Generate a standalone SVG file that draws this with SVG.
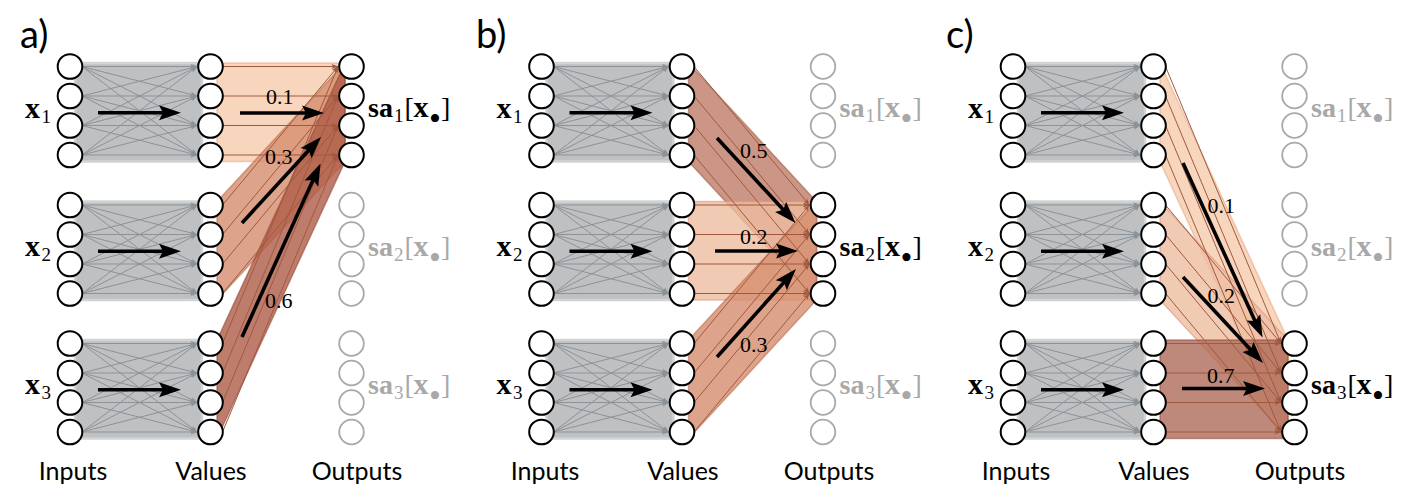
<svg xmlns="http://www.w3.org/2000/svg" xmlns:xlink="http://www.w3.org/1999/xlink" width="1412" height="504" viewBox="0 0 1412 504">
<style>
.on{fill:#fff;stroke:#000;stroke-width:2}
.off{fill:#fff;stroke:#a8a8a8;stroke-width:1.8}
.gb{fill:#bfc0c2;stroke:#d2d3d4;stroke-width:2.5}
.gl{stroke:#8b9399;stroke-width:1;fill:none}
.bl{stroke:#a0593f;stroke-width:1;fill:none;marker-end:url(#bh)}
.big{stroke:#000;stroke-width:3.6;fill:none;marker-end:url(#ah)}
.band{fill-opacity:0.8;stroke-width:1.5;stroke-opacity:0.55}
.w1{fill:#f6ccae;stroke:#e9a47f}
.w2{fill:#eebda1;stroke:#d89274}
.w3{fill:#d68d6e;stroke:#b86a4c}
.w5{fill:#be7c66;stroke:#9c5a44}
.w6{fill:#ae5c47;stroke:#934634}
.w7{fill:#ae6c59;stroke:#8e4b39}
.m{font-family:"Liberation Serif","DejaVu Serif",serif;font-size:28px;fill:#000}
.mg{fill:#a8a8a8}
.b{font-weight:bold}
.xb{font-weight:bold;font-size:30px}
.sub{font-size:19px}
.dot{font-size:34px}
.wt{font-family:"Liberation Serif","DejaVu Serif",serif;font-size:22px;fill:#000}
.s{font-family:Lato,"Open Sans","DejaVu Sans",sans-serif;fill:#000}
.cap{font-size:25px;text-anchor:middle}
.ttl{font-size:38px}
</style>
<defs>
<marker id="ah" markerUnits="userSpaceOnUse" markerWidth="24" markerHeight="16" refX="5" refY="0" orient="auto" overflow="visible"><path d="M0,-7.5 L22,0 L0,7.5 L4,0 Z" fill="#000"/></marker>
<marker id="gh" markerUnits="userSpaceOnUse" markerWidth="8" markerHeight="6" refX="6.5" refY="0" orient="auto" overflow="visible"><path d="M0,-2.7 L7,0 L0,2.7 L1.5,0 Z" fill="#8b9399"/></marker>
<marker id="bh" markerUnits="userSpaceOnUse" markerWidth="8" markerHeight="6" refX="6.5" refY="0" orient="auto" overflow="visible"><path d="M0,-2.5 L7,0 L0,2.5 L1.5,0 Z" fill="#a0593f"/></marker>
<g id="col"><circle cx="0" cy="0" r="12.3"/><circle cx="0" cy="29.5" r="12.3"/><circle cx="0" cy="59" r="12.3"/><circle cx="0" cy="88.5" r="12.3"/></g>
<g id="gband">
<rect x="5" y="-3.5" width="127" height="98.5" class="gb"/>
<g class="gl" marker-end="url(#gh)">
<line x1="12" y1="0" x2="127" y2="0"/><line x1="12" y1="0" x2="127" y2="29.5"/><line x1="12" y1="0" x2="127" y2="59"/><line x1="12" y1="0" x2="127" y2="88.5"/>
<line x1="12" y1="29.5" x2="127" y2="0"/><line x1="12" y1="29.5" x2="127" y2="29.5"/><line x1="12" y1="29.5" x2="127" y2="59"/><line x1="12" y1="29.5" x2="127" y2="88.5"/>
<line x1="12" y1="59" x2="127" y2="0"/><line x1="12" y1="59" x2="127" y2="29.5"/><line x1="12" y1="59" x2="127" y2="59"/><line x1="12" y1="59" x2="127" y2="88.5"/>
<line x1="12" y1="88.5" x2="127" y2="0"/><line x1="12" y1="88.5" x2="127" y2="29.5"/><line x1="12" y1="88.5" x2="127" y2="59"/><line x1="12" y1="88.5" x2="127" y2="88.5"/>
</g>
<line x1="28" y1="46.25" x2="94" y2="46.25" class="big"/>
</g>
</defs>
<rect width="1412" height="504" fill="#fff"/>

<g id="connectors">
<use href="#gband" x="70" y="66.5"/><use href="#gband" x="70" y="205"/><use href="#gband" x="70" y="343.5"/>
<use href="#gband" x="541.5" y="66.5"/><use href="#gband" x="541.5" y="205"/><use href="#gband" x="541.5" y="343.5"/>
<use href="#gband" x="1013" y="66.5"/><use href="#gband" x="1013" y="205"/><use href="#gband" x="1013" y="343.5"/>

<polygon class="band w1" points="217,63 345,63 345,161.5 217,161.5"/>
<polygon class="band w3" points="217,201.5 345,63 345,161.5 217,300"/>
<polygon class="band w6" points="217,340 345,63 345,161.5 217,438.5"/>
<line class="bl" x1="222.5" y1="66.5" x2="338" y2="66.5"/><line class="bl" x1="222.5" y1="96" x2="338" y2="96"/><line class="bl" x1="222.5" y1="125.5" x2="338" y2="125.5"/><line class="bl" x1="222.5" y1="155" x2="338" y2="155"/>
<line class="bl" x1="222.5" y1="205" x2="338" y2="66.5"/><line class="bl" x1="222.5" y1="234.5" x2="338" y2="96"/><line class="bl" x1="222.5" y1="264" x2="338" y2="125.5"/><line class="bl" x1="222.5" y1="293.5" x2="338" y2="155"/>
<line class="bl" x1="222.5" y1="343.5" x2="338" y2="66.5"/><line class="bl" x1="222.5" y1="373" x2="338" y2="96"/><line class="bl" x1="222.5" y1="402.5" x2="338" y2="125.5"/><line class="bl" x1="222.5" y1="432" x2="338" y2="155"/>

<polygon class="band w5" points="688.5,63 816.5,201.5 816.5,300 688.5,161.5"/>
<polygon class="band w2" points="688.5,201.5 816.5,201.5 816.5,300 688.5,300"/>
<polygon class="band w3" points="688.5,340 816.5,201.5 816.5,300 688.5,438.5"/>
<line class="bl" x1="694" y1="66.5" x2="809.5" y2="205"/><line class="bl" x1="694" y1="96" x2="809.5" y2="234.5"/><line class="bl" x1="694" y1="125.5" x2="809.5" y2="264"/><line class="bl" x1="694" y1="155" x2="809.5" y2="293.5"/>
<line class="bl" x1="694" y1="205" x2="809.5" y2="205"/><line class="bl" x1="694" y1="234.5" x2="809.5" y2="234.5"/><line class="bl" x1="694" y1="264" x2="809.5" y2="264"/><line class="bl" x1="694" y1="293.5" x2="809.5" y2="293.5"/>
<line class="bl" x1="694" y1="343.5" x2="809.5" y2="205"/><line class="bl" x1="694" y1="373" x2="809.5" y2="234.5"/><line class="bl" x1="694" y1="402.5" x2="809.5" y2="264"/><line class="bl" x1="694" y1="432" x2="809.5" y2="293.5"/>

<polygon class="band w1" points="1160,63 1288,340 1288,438.5 1160,161.5"/>
<polygon class="band w2" points="1160,201.5 1288,340 1288,438.5 1160,300"/>
<polygon class="band w7" points="1160,340 1288,340 1288,438.5 1160,438.5"/>
<line class="bl" x1="1165.5" y1="66.5" x2="1281" y2="343.5"/><line class="bl" x1="1165.5" y1="96" x2="1281" y2="373"/><line class="bl" x1="1165.5" y1="125.5" x2="1281" y2="402.5"/><line class="bl" x1="1165.5" y1="155" x2="1281" y2="432"/>
<line class="bl" x1="1165.5" y1="205" x2="1281" y2="343.5"/><line class="bl" x1="1165.5" y1="234.5" x2="1281" y2="373"/><line class="bl" x1="1165.5" y1="264" x2="1281" y2="402.5"/><line class="bl" x1="1165.5" y1="293.5" x2="1281" y2="432"/>
<line class="bl" x1="1165.5" y1="343.5" x2="1281" y2="343.5"/><line class="bl" x1="1165.5" y1="373" x2="1281" y2="373"/><line class="bl" x1="1165.5" y1="402.5" x2="1281" y2="402.5"/><line class="bl" x1="1165.5" y1="432" x2="1281" y2="432"/>

<line class="big" x1="240" y1="113" x2="307" y2="113"/>
<line class="big" x1="242" y1="223" x2="309.5" y2="149.5"/>
<line class="big" x1="242" y1="337" x2="313.5" y2="179"/>
<line class="big" x1="717" y1="138" x2="784" y2="210.5"/>
<line class="big" x1="715" y1="251" x2="781" y2="251"/>
<line class="big" x1="717" y1="357" x2="784.6" y2="281.6"/>
<line class="big" x1="1183" y1="163" x2="1255.5" y2="322"/>
<line class="big" x1="1183" y1="277" x2="1251.4" y2="350.6"/>
<line class="big" x1="1182" y1="388.5" x2="1248" y2="388.5"/>

<text class="wt" x="266" y="104">0.1</text>
<text class="wt" x="265" y="163.5">0.3</text>
<text class="wt" x="265" y="308">0.6</text>
<text class="wt" x="740" y="158">0.5</text>
<text class="wt" x="740" y="244">0.2</text>
<text class="wt" x="740" y="352">0.3</text>
<text class="wt" x="1207.5" y="213">0.1</text>
<text class="wt" x="1207.5" y="303">0.2</text>
<text class="wt" x="1207" y="383">0.7</text>
</g>

<g id="a-in1" class="on"><use href="#col" x="70" y="66.5"/></g>
<g id="a-in2" class="on"><use href="#col" x="70" y="205"/></g>
<g id="a-in3" class="on"><use href="#col" x="70" y="343.5"/></g>
<g id="a-val1" class="on"><use href="#col" x="210.5" y="66.5"/></g>
<g id="a-val2" class="on"><use href="#col" x="210.5" y="205"/></g>
<g id="a-val3" class="on"><use href="#col" x="210.5" y="343.5"/></g>
<g id="a-out1" class="on"><use href="#col" x="351.5" y="66.5"/></g>
<g id="a-out2" class="off"><use href="#col" x="351.5" y="205"/></g>
<g id="a-out3" class="off"><use href="#col" x="351.5" y="343.5"/></g>
<g id="b-in1" class="on"><use href="#col" x="541.5" y="66.5"/></g>
<g id="b-in2" class="on"><use href="#col" x="541.5" y="205"/></g>
<g id="b-in3" class="on"><use href="#col" x="541.5" y="343.5"/></g>
<g id="b-val1" class="on"><use href="#col" x="682" y="66.5"/></g>
<g id="b-val2" class="on"><use href="#col" x="682" y="205"/></g>
<g id="b-val3" class="on"><use href="#col" x="682" y="343.5"/></g>
<g id="b-out1" class="off"><use href="#col" x="823" y="66.5"/></g>
<g id="b-out2" class="on"><use href="#col" x="823" y="205"/></g>
<g id="b-out3" class="off"><use href="#col" x="823" y="343.5"/></g>
<g id="c-in1" class="on"><use href="#col" x="1013" y="66.5"/></g>
<g id="c-in2" class="on"><use href="#col" x="1013" y="205"/></g>
<g id="c-in3" class="on"><use href="#col" x="1013" y="343.5"/></g>
<g id="c-val1" class="on"><use href="#col" x="1153.5" y="66.5"/></g>
<g id="c-val2" class="on"><use href="#col" x="1153.5" y="205"/></g>
<g id="c-val3" class="on"><use href="#col" x="1153.5" y="343.5"/></g>
<g id="c-out1" class="off"><use href="#col" x="1294.5" y="66.5"/></g>
<g id="c-out2" class="off"><use href="#col" x="1294.5" y="205"/></g>
<g id="c-out3" class="on"><use href="#col" x="1294.5" y="343.5"/></g>

<g id="labels">
<text class="s ttl" x="20" y="48">a)</text>
<text class="s ttl" x="476" y="48">b)</text>
<text class="s ttl" x="946" y="48">c)</text>

<text class="s cap" x="73" y="480">Inputs</text><text class="s cap" x="211" y="480">Values</text><text class="s cap" x="357" y="480">Outputs</text>
<text class="s cap" x="545" y="480">Inputs</text><text class="s cap" x="683" y="480">Values</text><text class="s cap" x="829" y="480">Outputs</text>
<text class="s cap" x="1016" y="480">Inputs</text><text class="s cap" x="1154" y="480">Values</text><text class="s cap" x="1300" y="480">Outputs</text>

<text class="m" x="25" y="117.5"><tspan class="xb">x</tspan><tspan class="sub" x="41.5" dy="5">1</tspan></text>
<text class="m" x="25" y="256"><tspan class="xb">x</tspan><tspan class="sub" x="41.5" dy="5">2</tspan></text>
<text class="m" x="25" y="394"><tspan class="xb">x</tspan><tspan class="sub" x="41.5" dy="5">3</tspan></text>
<text class="m" x="496.5" y="117.5"><tspan class="xb">x</tspan><tspan class="sub" x="513" dy="5">1</tspan></text>
<text class="m" x="496.5" y="256"><tspan class="xb">x</tspan><tspan class="sub" x="513" dy="5">2</tspan></text>
<text class="m" x="496.5" y="394"><tspan class="xb">x</tspan><tspan class="sub" x="513" dy="5">3</tspan></text>
<text class="m" x="968" y="117.5"><tspan class="xb">x</tspan><tspan class="sub" x="984.5" dy="5">1</tspan></text>
<text class="m" x="968" y="256"><tspan class="xb">x</tspan><tspan class="sub" x="984.5" dy="5">2</tspan></text>
<text class="m" x="968" y="394"><tspan class="xb">x</tspan><tspan class="sub" x="984.5" dy="5">3</tspan></text>

<text class="m" x="368" y="117"><tspan class="b">sa</tspan><tspan class="sub" x="394" dy="5">1</tspan><tspan x="404.5" dy="-5">[</tspan><tspan class="xb" x="413.5">x</tspan><tspan class="dot" x="429" dy="13">•</tspan><tspan x="441" dy="-13">]</tspan></text>
<text class="m mg" x="368" y="255.5"><tspan class="b">sa</tspan><tspan class="sub" x="394" dy="5">2</tspan><tspan x="404.5" dy="-5">[</tspan><tspan class="xb" x="413.5">x</tspan><tspan class="dot" x="429" dy="13">•</tspan><tspan x="441" dy="-13">]</tspan></text>
<text class="m mg" x="368" y="394"><tspan class="b">sa</tspan><tspan class="sub" x="394" dy="5">3</tspan><tspan x="404.5" dy="-5">[</tspan><tspan class="xb" x="413.5">x</tspan><tspan class="dot" x="429" dy="13">•</tspan><tspan x="441" dy="-13">]</tspan></text>

<text class="m mg" x="839.5" y="117"><tspan class="b">sa</tspan><tspan class="sub" x="865.5" dy="5">1</tspan><tspan x="876" dy="-5">[</tspan><tspan class="xb" x="885">x</tspan><tspan class="dot" x="900.5" dy="13">•</tspan><tspan x="912.5" dy="-13">]</tspan></text>
<text class="m" x="839.5" y="255.5"><tspan class="b">sa</tspan><tspan class="sub" x="865.5" dy="5">2</tspan><tspan x="876" dy="-5">[</tspan><tspan class="xb" x="885">x</tspan><tspan class="dot" x="900.5" dy="13">•</tspan><tspan x="912.5" dy="-13">]</tspan></text>
<text class="m mg" x="839.5" y="394"><tspan class="b">sa</tspan><tspan class="sub" x="865.5" dy="5">3</tspan><tspan x="876" dy="-5">[</tspan><tspan class="xb" x="885">x</tspan><tspan class="dot" x="900.5" dy="13">•</tspan><tspan x="912.5" dy="-13">]</tspan></text>

<text class="m mg" x="1311" y="117"><tspan class="b">sa</tspan><tspan class="sub" x="1337" dy="5">1</tspan><tspan x="1347.5" dy="-5">[</tspan><tspan class="xb" x="1356.5">x</tspan><tspan class="dot" x="1372" dy="13">•</tspan><tspan x="1384" dy="-13">]</tspan></text>
<text class="m mg" x="1311" y="255.5"><tspan class="b">sa</tspan><tspan class="sub" x="1337" dy="5">2</tspan><tspan x="1347.5" dy="-5">[</tspan><tspan class="xb" x="1356.5">x</tspan><tspan class="dot" x="1372" dy="13">•</tspan><tspan x="1384" dy="-13">]</tspan></text>
<text class="m" x="1311" y="394"><tspan class="b">sa</tspan><tspan class="sub" x="1337" dy="5">3</tspan><tspan x="1347.5" dy="-5">[</tspan><tspan class="xb" x="1356.5">x</tspan><tspan class="dot" x="1372" dy="13">•</tspan><tspan x="1384" dy="-13">]</tspan></text>
</g>
</svg>
